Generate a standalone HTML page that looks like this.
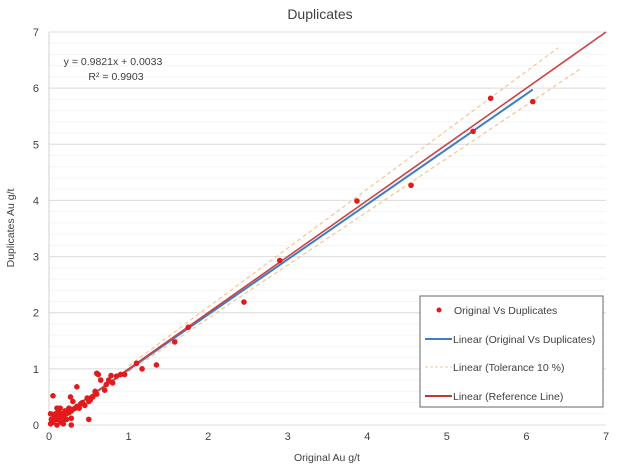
<!DOCTYPE html>
<html><head><meta charset="utf-8"><style>
body{margin:0;background:#fff;font-family:"Liberation Sans",sans-serif}
svg text{font-family:"Liberation Sans",sans-serif;fill:#404040}
</style></head><body>
<svg id="chart" width="624" height="468" xmlns="http://www.w3.org/2000/svg">
<rect width="624" height="468" fill="#fff"/>
<text x="320" y="19" font-size="14" text-anchor="middle">Duplicates</text>
<g id="grid"></g><g id="axes"></g><g id="lines"></g><g id="points"></g>
<text x="113" y="65" font-size="10.5" text-anchor="middle">y = 0.9821x + 0.0033</text>
<text x="116" y="80" font-size="10.5" text-anchor="middle">R² = 0.9903</text>
<text x="327" y="461" font-size="10.5" text-anchor="middle">Original Au g/t</text>
<text x="14" y="228" font-size="10.5" text-anchor="middle" transform="rotate(-90 14 228)">Duplicates Au g/t</text>
<g>
<rect x="420" y="296" width="183" height="111" fill="#fff" stroke="#666" stroke-width="1"/>
<circle cx="439" cy="310" r="2.5" fill="#e31a1c"/>
<text x="454" y="314" font-size="10.5">Original Vs Duplicates</text>
<line x1="425" y1="339" x2="452" y2="339" stroke="#3b7fc4" stroke-width="2"/>
<text x="453" y="343" font-size="10.5">Linear (Original Vs Duplicates)</text>
<line x1="425" y1="367" x2="452" y2="367" stroke="#f4c49a" stroke-width="1" stroke-dasharray="3,2"/>
<text x="453" y="371" font-size="10.5">Linear (Tolerance 10 %)</text>
<line x1="425" y1="396" x2="452" y2="396" stroke="#c0392b" stroke-width="2"/>
<text x="453" y="400" font-size="10.5">Linear (Reference Line)</text>
</g>
</svg>
<script>
const xTicks=[0,1,2,3,4,5,6,7];
const yTicks=[0,1,2,3,4,5,6,7];
const origX=[5.55,6.08,5.33,4.55,3.87,2.9,2.45,1.75,1.58,1.35,1.17,1.1,0.9,0.95,0.85,0.8,0.78,0.75,0.72,0.7,0.65,0.62,0.6,0.58,0.55,0.52,0.5,0.48,0.45,0.42,0.4,0.38,0.35,0.33,0.3,0.28,0.27,0.25,0.22,0.2,0.18,0.15,0.13,0.12,0.1,0.08,0.07,0.05,0.04,0.03,0.02,0.1,0.15,0.2,0.28,0.05,0.12,0.08,0.5,0.28,0.35,0.6,0.3,0.18,0.25,0.1,0.06,0.02,0.14,0.22];
const dupX=[5.82,5.76,5.23,4.27,3.99,2.93,2.19,1.74,1.48,1.07,1.0,1.1,0.9,0.9,0.87,0.75,0.88,0.8,0.72,0.62,0.8,0.9,0.55,0.6,0.5,0.45,0.42,0.48,0.35,0.4,0.38,0.3,0.33,0.3,0.28,0.25,0.5,0.3,0.2,0.25,0.15,0.2,0.12,0.15,0.1,0.2,0.15,0.05,0.08,0.1,0.02,0.3,0.05,0.1,0.0,0.52,0.25,0.18,0.1,0.12,0.68,0.92,0.42,0.02,0.22,0.0,0.12,0.2,0.3,0.1];
const slope=0.9821, icpt=0.0033;
const X=v=>49+v*(557/7), Y=v=>425-v*(393/7);
const NS="http://www.w3.org/2000/svg";
function mk(p,t,a){const e=document.createElementNS(NS,t);for(const k in a)e.setAttribute(k,a[k]);p.appendChild(e);return e;}
const grid=document.getElementById('grid'),axes=document.getElementById('axes'),lines=document.getElementById('lines'),pts=document.getElementById('points');
for(let v=0.2;v<7;v+=0.2){const g=mk(grid,'line',{x1:X(0),x2:X(7),y1:Y(v),y2:Y(v),stroke:'#f5f5f5'});

}
yTicks.forEach(v=>{const g=mk(grid,'line',{x1:X(0),x2:X(7),y1:Y(v),y2:Y(v),stroke:'#dcdcdc'});


const t=mk(axes,'text',{x:X(0)-10,y:Y(v)+4,'font-size':11,'text-anchor':'end'});t.textContent=v;

});
xTicks.forEach(v=>{const t=mk(axes,'text',{x:X(v),y:440,'font-size':11,'text-anchor':'middle'});t.textContent=v;

});
const ax=mk(axes,'line',{x1:X(0),x2:X(0),y1:Y(0),y2:Y(7),stroke:'#d0d0d0'});


function ln(x1,y1,x2,y2,st,w,d,name){const l=mk(lines,'line',{x1:X(x1),y1:Y(y1),x2:X(x2),y2:Y(y2),stroke:st,'stroke-width':w});if(d)l.setAttribute('stroke-dasharray',d);

}
ln(1,1.05,6.4,6.4*1.05,'#f4c49a',1.2,'4,3','tolerance-upper');
ln(1,0.95,6.7,6.7*0.95,'#f4c49a',1.2,'4,3','tolerance-lower');
ln(0,icpt,6.08,slope*6.08+icpt,'#3b7fc4',2,null,'trendline');
ln(0,0,7,7,'#d04040',1.6,null,'reference-line');
origX.forEach((x,i)=>{const c=mk(pts,'circle',{cx:X(x),cy:Y(dupX[i]),r:2.8,fill:'#e31a1c'});

});
</script>
</body></html>
